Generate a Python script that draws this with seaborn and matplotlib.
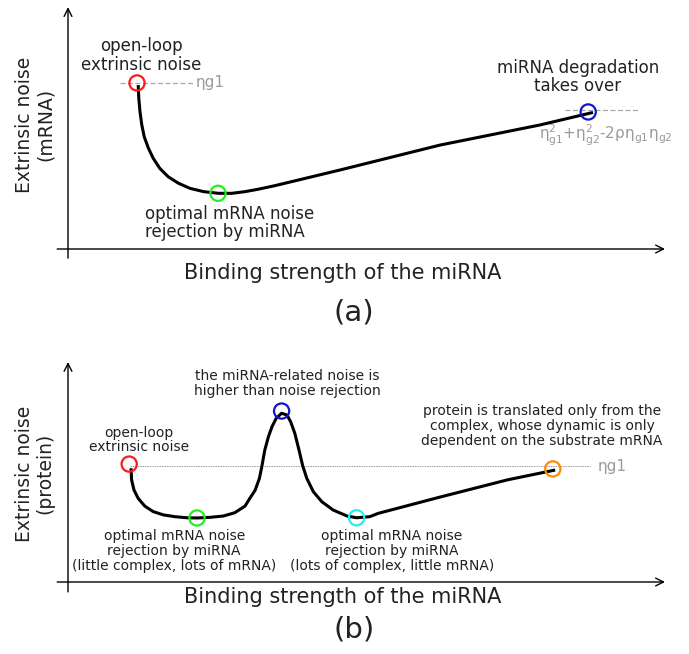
import numpy as np
import pandas as pd
import seaborn as sb
import matplotlib.pyplot as plt

sb.set_theme(style='white')
plt.rcParams['font.family'] = ['DejaVu Sans']
plt.rcParams['mathtext.default'] = 'regular'

# panel (a): mRNA extrinsic noise vs binding strength (schematic units)
a_x = [1.17, 1.18, 1.20, 1.23, 1.27, 1.34, 1.42, 1.53, 1.67, 1.84, 2.03,
       2.26, 2.51, 2.73, 2.95, 3.17, 3.45, 4.53, 6.20, 7.87, 8.75]
a_y = [6.83, 6.28, 5.72, 5.17, 4.68, 4.20, 3.78, 3.36, 3.01, 2.74, 2.53,
       2.39, 2.32, 2.32, 2.39, 2.49, 2.64, 3.29, 4.33, 5.17, 5.69]
a_pts_x = [1.15, 2.50, 8.67]
a_pts_y = [6.92, 2.32, 5.71]
a_pts_col = ['#ff1a1a', '#22ee22', '#1414cc']
a_open_loop = 6.92
a_high = 5.79

# panel (b): protein extrinsic noise
b_x = [1.05, 1.06, 1.10, 1.17, 1.28, 1.42, 1.59, 1.78, 1.98, 2.15, 2.37,
       2.59, 2.78, 2.95, 3.03, 3.12, 3.19, 3.23, 3.28, 3.34, 3.40, 3.47,
       3.56, 3.65, 3.71, 3.78, 3.85, 3.91, 3.98, 4.09, 4.23, 4.42, 4.65,
       4.81, 5.03, 5.17, 6.20, 7.32, 8.12]
b_y = [5.17, 4.64, 4.18, 3.80, 3.45, 3.20, 3.05, 2.97, 2.92, 2.91, 2.94,
       3.00, 3.15, 3.45, 3.80, 4.18, 4.71, 5.24, 6.00, 6.60, 7.06, 7.44,
       7.67, 7.59, 7.29, 6.76, 6.00, 5.30, 4.71, 4.10, 3.65, 3.27, 3.00,
       2.92, 2.97, 3.12, 3.86, 4.64, 5.09]
b_pts_x = [1.02, 2.15, 3.56, 4.81, 8.08]
b_pts_y = [5.36, 2.91, 7.77, 2.92, 5.14]
b_pts_col = ['#ff1a1a', '#22ee22', '#1414cc', '#22eeee', '#ff8c00']
b_open_loop = 5.27

xlabel = 'Binding strength of the miRNA'
txt = '#222222'
grey = '#9a9a9a'

fig = plt.figure(figsize=(6.89, 6.54), dpi=100)
ax1 = fig.add_axes([0, 319 / 654, 1, 335 / 654])
ax2 = fig.add_axes([0, 0, 1, 319 / 654])
ax1.set_xlim(-68 / 60, 621 / 60)
ax1.set_ylim(-86 / 24, 249 / 24)
ax2.set_xlim(-68 / 60, 621 / 60)
ax2.set_ylim(-72 / 22, 247 / 22)


def draw_axes(ax, ytop, ybot):
    arr = dict(arrowstyle='->', lw=1.0, color='black', mutation_scale=14,
               shrinkA=0, shrinkB=0)
    ax.annotate('', xy=(9.95, 0), xytext=(-0.18, 0), arrowprops=arr)
    ax.annotate('', xy=(0, ytop), xytext=(0, ybot), arrowprops=arr)
    ax.axis('off')


def draw_curve(ax, xs, ys):
    sb.lineplot(x=xs, y=ys, ax=ax, color='black', lw=2.2, sort=False,
                zorder=3, solid_joinstyle='round', solid_capstyle='butt')


def draw_points(ax, xs, ys, cols):
    sb.scatterplot(x=xs, y=ys, ax=ax, s=120, facecolor='none',
                   edgecolor=cols, linewidth=1.6, zorder=4, legend=False)


# ---- (a)
draw_axes(ax1, 10.08, -0.38)
ax1.plot([0.87, 2.08], [a_open_loop] * 2, ls=(0, (4, 2)), lw=0.9, color='#aaaaaa')
ax1.plot([8.28, 9.5], [a_high] * 2, ls=(0, (4, 2)), lw=0.9, color='#aaaaaa')
draw_curve(ax1, a_x, a_y)
draw_points(ax1, a_pts_x, a_pts_y, a_pts_col)

ax1.text(1.22, 8.06, 'open-loop\nextrinsic noise', ha='center', va='center',
         fontsize=12, color=txt, linespacing=1.05)
ax1.text(8.5, 7.17, 'miRNA degradation\ntakes over', ha='center', va='center',
         fontsize=12, color=txt, linespacing=1.05)
ax1.text(1.28, 1.08, 'optimal mRNA noise\nrejection by miRNA', ha='left',
         va='center', fontsize=12, color=txt, linespacing=1.05)
ax1.text(2.12, a_open_loop, 'ηg1', ha='left', va='center', fontsize=11, color=grey)
ax1.text(8.97, 4.75, r'$\eta^2_{g1}$+$\eta^2_{g2}$-2$\rho\eta_{g1}\eta_{g2}$',
         ha='center', va='center', fontsize=11, color=grey)
ax1.text(4.58, -1.0, xlabel, ha='center', va='center', fontsize=15, color=txt)
ax1.text(4.77, -2.63, '(a)', ha='center', va='center', fontsize=21, color=txt)
ax1.text(-0.55, 5.17, 'Extrinsic noise\n(mRNA)', ha='center', va='center',
         rotation=90, fontsize=13.5, color=txt, linespacing=1.1)

# ---- (b)
draw_axes(ax2, 10.0, -0.45)
ax2.plot([1.03, 8.7], [b_open_loop] * 2, ls=(0, (1.5, 1)), lw=0.7, color='#999999')
draw_curve(ax2, b_x, b_y)
draw_points(ax2, b_pts_x, b_pts_y, b_pts_col)

ax2.text(3.65, 9.02, 'the miRNA-related noise is\nhigher than noise rejection',
         ha='center', va='center', fontsize=10, color=txt, linespacing=1.05)
ax2.text(1.18, 6.45, 'open-loop\nextrinsic noise', ha='center', va='center',
         fontsize=10, color=txt, linespacing=1.05)
ax2.text(1.77, 1.41, 'optimal mRNA noise\nrejection by miRNA\n(little complex, lots of mRNA)',
         ha='center', va='center', fontsize=10, color=txt, linespacing=1.05)
ax2.text(5.4, 1.41, 'optimal mRNA noise\nrejection by miRNA\n(lots of complex, little mRNA)',
         ha='center', va='center', fontsize=10, color=txt, linespacing=1.05)
ax2.text(7.9, 7.09, 'protein is translated only from the\ncomplex, whose dynamic is only\n'
         'dependent on the substrate mRNA', ha='center', va='center',
         fontsize=10, color=txt, linespacing=1.05)
ax2.text(8.83, b_open_loop, 'ηg1', ha='left', va='center', fontsize=11, color=grey)
ax2.text(4.58, -0.68, xlabel, ha='center', va='center', fontsize=15, color=txt)
ax2.text(4.77, -2.18, '(b)', ha='center', va='center', fontsize=21, color=txt)
ax2.text(-0.55, 4.93, 'Extrinsic noise\n(protein)', ha='center', va='center',
         rotation=90, fontsize=13.5, color=txt, linespacing=1.1)

fig.savefig('out.png', dpi=100)
